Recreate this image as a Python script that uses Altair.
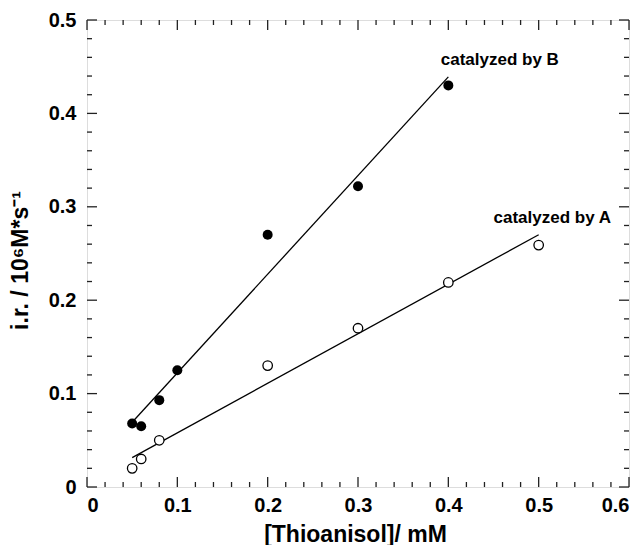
import altair as alt
import pandas as pd

# Initial rate vs. thioanisole concentration for the two catalysts
conc_b = [0.05, 0.06, 0.08, 0.10, 0.20, 0.30, 0.40]
rate_b = [0.068, 0.065, 0.093, 0.125, 0.270, 0.322, 0.430]
conc_a = [0.05, 0.06, 0.08, 0.20, 0.30, 0.40, 0.50]
rate_a = [0.020, 0.030, 0.050, 0.130, 0.170, 0.219, 0.259]

# Axis ticks
x_major = [0, 0.1, 0.2, 0.3, 0.4, 0.5, 0.6]
y_major = [0, 0.1, 0.2, 0.3, 0.4, 0.5]
x_minor = [round(i * 0.02, 2) for i in range(31) if i % 5]
y_minor = [round(i * 0.02, 2) for i in range(26) if i % 5]

# Series labels
label_text = ["catalyzed by B", "catalyzed by A"]
label_x = [0.457, 0.515]
label_y = [0.452, 0.283]

W, H = 542, 467
FONT = "Liberation Sans"

df = pd.DataFrame({
    "x": conc_b + conc_a,
    "y": rate_b + rate_a,
    "series": ["B"] * len(conc_b) + ["A"] * len(conc_a),
})
labels = pd.DataFrame({"text": label_text, "x": label_x, "y": label_y})

xs = alt.Scale(domain=[0, 0.6], nice=False, zero=False)
ys = alt.Scale(domain=[0, 0.5], nice=False, zero=False)

X_AX = alt.Axis(
    values=x_major, format=".1~f", ticks=False, domain=False, grid=False,
    labelFont=FONT, labelFontWeight="bold", labelFontSize=20, labelColor="black",
    labelPadding=8, title="[Thioanisol]/ mM", titleFont=FONT,
    titleFontWeight="bold", titleFontSize=23, titleColor="black",
    titleX=268, titleY=54, titleBaseline="alphabetic",
)
Y_AX = alt.Axis(
    values=y_major, format=".1~f", ticks=False, domain=False, grid=False,
    labelFont=FONT, labelFontWeight="bold", labelFontSize=20, labelColor="black",
    labelPadding=11, title="i.r. / 10⁶M*s⁻¹", titleFont=FONT,
    titleFontWeight="bold", titleFontSize=23, titleColor="black",
    titleX=-60, titleY=240, titleBaseline="alphabetic", titleAngle=270,
)


def xenc():
    return alt.X("x:Q", scale=xs, axis=X_AX, title="[Thioanisol]/ mM")


def yenc():
    return alt.Y("y:Q", scale=ys, axis=Y_AX, title="i.r. / 10⁶M*s⁻¹")


base = alt.Chart(df)

fit = base.transform_regression("x", "y", groupby=["series"]).mark_line(
    color="black", strokeWidth=1.3
).encode(x=xenc(), y=yenc(), detail="series:N")

pts_b = base.transform_filter(alt.datum.series == "B").mark_point(
    shape="circle", filled=True, color="black", size=100, opacity=1
).encode(x=xenc(), y=yenc())

pts_a = base.transform_filter(alt.datum.series == "A").mark_point(
    shape="circle", filled=False, fill="white", stroke="black", strokeWidth=1.3,
    size=90, opacity=1
).encode(x=xenc(), y=yenc())


def tick_layer(values, field, length, side):
    d = alt.Chart(pd.DataFrame({field: values})).mark_rule(color="#222", strokeWidth=1.3)
    if field == "x":
        enc = dict(x=xenc())
        if side == "bottom":
            enc.update(y=alt.value(H), y2=alt.value(H - length))
        else:
            enc.update(y=alt.value(0), y2=alt.value(length))
    else:
        enc = dict(y=yenc())
        if side == "left":
            enc.update(x=alt.value(0), x2=alt.value(length))
        else:
            enc.update(x=alt.value(W), x2=alt.value(W - length))
    return d.encode(**enc)


ticks = [
    tick_layer(x_major, "x", 10, "bottom"), tick_layer(x_minor, "x", 5, "bottom"),
    tick_layer(x_major, "x", 10, "top"), tick_layer(x_minor, "x", 5, "top"),
    tick_layer(y_major, "y", 10, "left"), tick_layer(y_minor, "y", 5, "left"),
    tick_layer(y_major, "y", 10, "right"), tick_layer(y_minor, "y", 5, "right"),
]

text = alt.Chart(labels).mark_text(
    font=FONT, fontWeight="bold", fontSize=17, color="black",
    align="center", baseline="alphabetic",
).encode(x=xenc(), y=yenc(), text="text:N")

chart = alt.layer(pts_b, fit, pts_a, text, *ticks).properties(
    width=W, height=H,
    padding={"left": 87, "top": 20, "right": 14, "bottom": 58},
    autosize=alt.AutoSizeParams(type="none"),
).configure_view(stroke="#222", strokeWidth=1.5).configure(background="white")

chart.save("out.html", embed_options={"renderer": "svg", "actions": False})
